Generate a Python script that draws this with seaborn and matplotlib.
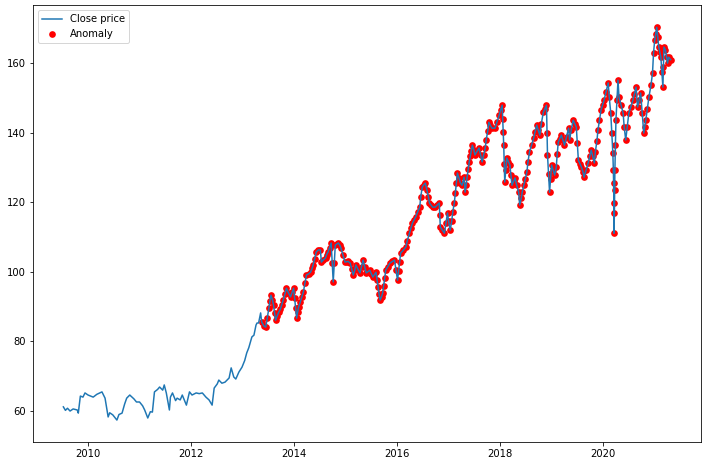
import pandas as pd
import matplotlib
matplotlib.use("Agg")
import matplotlib.pyplot as plt
import seaborn as sns

# close price (decimal year, price) - quiet years
early_years = [
    2009.52, 2009.56, 2009.60, 2009.65, 2009.71, 2009.79, 2009.81, 2009.85, 2009.90, 2009.94,
    2010.00, 2010.10, 2010.17, 2010.27, 2010.33, 2010.39, 2010.42, 2010.48, 2010.56, 2010.60,
    2010.66, 2010.71, 2010.75, 2010.81, 2010.89, 2010.94, 2011.00, 2011.06, 2011.10, 2011.16,
    2011.21, 2011.25, 2011.29, 2011.35, 2011.39, 2011.45, 2011.48, 2011.52, 2011.58, 2011.60,
    2011.64, 2011.70, 2011.73, 2011.79, 2011.83, 2011.91, 2011.97, 2012.02, 2012.10, 2012.16,
    2012.22, 2012.29, 2012.35, 2012.41, 2012.45, 2012.51, 2012.54, 2012.60, 2012.66, 2012.74,
    2012.78, 2012.83, 2012.87, 2012.93, 2012.99, 2013.04, 2013.08, 2013.12, 2013.18, 2013.22,
    2013.26, 2013.28, 2013.31, 2013.35,
]
early_prices = [
    61.2, 60.2, 60.8, 60.0, 60.6, 60.3, 59.4, 64.3, 64.0, 65.2,
    64.6, 64.0, 64.8, 65.5, 63.7, 58.3, 59.5, 58.9, 57.4, 59.0,
    59.4, 62.0, 63.7, 64.6, 63.5, 62.6, 62.6, 61.5, 60.3, 58.0,
    59.8, 59.7, 65.5, 66.2, 66.9, 66.0, 67.5, 65.2, 60.3, 64.0,
    65.2, 63.0, 63.7, 63.2, 64.6, 61.7, 65.5, 64.6, 65.2, 65.0,
    65.2, 64.0, 63.2, 61.7, 66.6, 67.8, 68.9, 68.0, 68.3, 69.5,
    72.4, 69.8, 69.2, 71.2, 72.6, 74.5, 76.7, 78.2, 81.3, 81.8,
    84.7, 85.3, 85.3, 88.2,
]

# later years, where every point is flagged as an anomaly
anom_years = [
    2013.37, 2013.41, 2013.45, 2013.48, 2013.51, 2013.53, 2013.55, 2013.58, 2013.60, 2013.62,
    2013.64, 2013.67, 2013.70, 2013.73, 2013.76, 2013.79, 2013.82, 2013.85, 2013.89, 2013.93,
    2013.96, 2013.99, 2014.01, 2014.03, 2014.05, 2014.07, 2014.09, 2014.12, 2014.15, 2014.18,
    2014.21, 2014.24, 2014.28, 2014.32, 2014.35, 2014.37, 2014.40, 2014.43, 2014.47, 2014.51,
    2014.53, 2014.57, 2014.61, 2014.63, 2014.66, 2014.69, 2014.72, 2014.74, 2014.76, 2014.78,
    2014.80, 2014.83, 2014.86, 2014.89, 2014.91, 2014.95, 2014.99, 2015.02, 2015.05, 2015.09,
    2015.12, 2015.15, 2015.18, 2015.20, 2015.24, 2015.28, 2015.31, 2015.34, 2015.37, 2015.40,
    2015.44, 2015.47, 2015.50, 2015.53, 2015.56, 2015.59, 2015.61, 2015.63, 2015.65, 2015.67,
    2015.70, 2015.72, 2015.74, 2015.76, 2015.78, 2015.82, 2015.86, 2015.91, 2015.95, 2015.98,
    2016.01, 2016.03, 2016.05, 2016.07, 2016.12, 2016.17, 2016.20, 2016.24, 2016.27, 2016.30,
    2016.33, 2016.36, 2016.40, 2016.44, 2016.46, 2016.49, 2016.52, 2016.55, 2016.58, 2016.61,
    2016.63, 2016.66, 2016.69, 2016.74, 2016.78, 2016.82, 2016.83, 2016.84, 2016.88, 2016.92,
    2016.95, 2016.98, 2017.00, 2017.03, 2017.06, 2017.08, 2017.11, 2017.13, 2017.15, 2017.17,
    2017.20, 2017.23, 2017.26, 2017.30, 2017.32, 2017.34, 2017.36, 2017.38, 2017.40, 2017.42,
    2017.44, 2017.46, 2017.49, 2017.51, 2017.55, 2017.59, 2017.62, 2017.65, 2017.68, 2017.71,
    2017.73, 2017.76, 2017.78, 2017.81, 2017.84, 2017.90, 2017.94, 2017.98, 2018.01, 2018.04,
    2018.05, 2018.06, 2018.07, 2018.08, 2018.09, 2018.11, 2018.13, 2018.16, 2018.19, 2018.21,
    2018.23, 2018.26, 2018.29, 2018.32, 2018.36, 2018.38, 2018.41, 2018.43, 2018.46, 2018.49,
    2018.52, 2018.54, 2018.57, 2018.61, 2018.65, 2018.68, 2018.71, 2018.74, 2018.77, 2018.80,
    2018.84, 2018.87, 2018.90, 2018.91, 2018.92, 2018.94, 2018.96, 2018.98, 2019.00, 2019.03,
    2019.06, 2019.09, 2019.11, 2019.13, 2019.16, 2019.19, 2019.22, 2019.25, 2019.29, 2019.33,
    2019.35, 2019.38, 2019.42, 2019.45, 2019.48, 2019.50, 2019.52, 2019.55, 2019.58, 2019.61,
    2019.63, 2019.67, 2019.71, 2019.74, 2019.77, 2019.80, 2019.83, 2019.85, 2019.88, 2019.90,
    2019.93, 2019.96, 2019.99, 2020.02, 2020.06, 2020.10, 2020.12, 2020.15, 2020.17, 2020.19,
    2020.200, 2020.205, 2020.210, 2020.212, 2020.220, 2020.225, 2020.230, 2020.240, 2020.250, 2020.270,
    2020.29, 2020.31, 2020.35, 2020.39, 2020.41, 2020.44, 2020.47, 2020.50, 2020.54, 2020.58,
    2020.61, 2020.64, 2020.67, 2020.70, 2020.73, 2020.76, 2020.79, 2020.81, 2020.83, 2020.86,
    2020.89, 2020.93, 2020.96, 2020.98, 2021.00, 2021.02, 2021.04, 2021.06, 2021.08, 2021.10,
    2021.12, 2021.14, 2021.16, 2021.17, 2021.18, 2021.21, 2021.23, 2021.25, 2021.27, 2021.31,
]
anom_prices = [
    85.6, 84.5, 84.1, 86.8, 89.6, 91.6, 93.3, 92.0, 90.5, 88.2,
    86.1, 87.3, 88.4, 89.2, 90.5, 92.0, 93.5, 95.3, 94.0, 92.8,
    94.1, 95.3, 92.5, 89.5, 86.7, 88.5, 90.0, 91.3, 92.8, 94.2,
    96.7, 99.1, 99.4, 99.9, 101.0, 102.0, 103.8, 105.7, 106.3, 106.3,
    102.8, 103.5, 104.0, 104.9, 105.7, 107.0, 108.3, 102.5, 97.1, 102.5,
    107.7, 108.0, 108.3, 107.6, 106.8, 104.8, 102.8, 102.9, 103.0, 102.5,
    100.8, 99.1, 100.5, 102.0, 100.8, 99.7, 101.5, 103.4, 101.5, 99.7,
    100.1, 100.5, 99.5, 98.5, 99.2, 99.9, 97.8, 95.6, 93.7, 91.9,
    92.9, 93.9, 96.0, 98.2, 100.5, 101.5, 102.5, 103.0, 103.4, 100.5,
    97.6, 100.2, 102.8, 105.4, 106.2, 107.1, 109.0, 111.1, 112.6, 114.0,
    114.9, 115.7, 117.2, 118.6, 121.5, 124.4, 125.0, 125.5, 123.5, 121.5,
    119.8, 119.2, 118.6, 118.6, 119.2, 119.8, 116.4, 112.9, 112.0, 111.1,
    114.0, 116.9, 114.5, 112.0, 114.6, 117.2, 119.8, 122.7, 125.6, 128.4,
    127.0, 125.5, 124.9, 127.2, 122.9, 125.0, 127.4, 129.5, 131.6, 133.2,
    134.8, 136.4, 135.0, 133.6, 134.6, 135.6, 133.6, 131.6, 133.6, 135.6,
    138.0, 140.5, 143.0, 142.1, 141.3, 141.3, 143.1, 145.0, 146.5, 147.9,
    144.0, 140.2, 136.4, 131.0, 125.8, 129.2, 132.7, 131.7, 130.7, 127.8,
    124.9, 126.0, 127.0, 125.0, 122.9, 119.2, 121.1, 123.0, 124.9, 126.8,
    128.7, 131.5, 134.4, 136.4, 138.4, 140.3, 142.2, 140.7, 139.3, 142.6,
    145.9, 146.9, 147.9, 140.0, 133.6, 128.0, 122.9, 126.8, 130.7, 129.3,
    127.8, 130.0, 134.0, 137.3, 138.3, 139.3, 137.9, 136.4, 138.9, 141.3,
    137.9, 140.7, 143.6, 142.6, 141.6, 137.0, 132.1, 131.1, 130.1, 128.7,
    127.2, 129.3, 131.3, 133.2, 135.0, 133.2, 131.3, 134.5, 137.6, 140.7,
    143.6, 146.5, 148.0, 149.4, 151.8, 154.3, 150.2, 145.6, 140.0, 134.1,
    129.3, 125.5, 119.8, 111.1, 116.9, 123.5, 129.3, 136.5, 143.6, 149.4,
    155.1, 150.2, 147.9, 145.6, 141.7, 137.9, 141.7, 145.6, 147.5, 149.4,
    151.2, 153.1, 147.4, 149.4, 151.4, 145.7, 139.9, 141.7, 143.6, 146.9,
    150.2, 153.6, 157.1, 162.9, 166.5, 168.4, 170.3, 167.5, 164.6, 163.1,
    161.7, 157.4, 153.1, 158.8, 164.6, 163.7, 161.8, 160.0, 161.7, 161.0,
]


def to_date(y):
    year = int(y)
    return pd.Timestamp(f"{year}-01-01") + pd.Timedelta(days=(y - year) * 365.25)


def main():
    df = pd.DataFrame({"Year": early_years + anom_years,
                       "Close": early_prices + anom_prices})
    df["Date"] = df["Year"].apply(to_date)
    df_anom = pd.DataFrame({"Year": anom_years, "Close": anom_prices})
    df_anom["Date"] = df_anom["Year"].apply(to_date)

    fig = plt.figure(figsize=(710 / 72, 466 / 72), dpi=72)
    ax = fig.add_axes([33 / 710, 24 / 466, 668 / 710, 437 / 466])

    # red dots under the blue line
    sns.lineplot(data=df, x="Date", y="Close", color="#1f77b4", linewidth=1.5,
                 label="Close price", estimator=None, sort=False, ax=ax, zorder=2)
    sns.scatterplot(data=df_anom, x="Date", y="Close", color="red", s=45,
                    linewidth=0, label="Anomaly", ax=ax, zorder=1)

    ax.set_xlabel("")
    ax.set_ylabel("")
    ax.set_ylim(51.1, 176.7)
    ax.legend(loc="upper left")

    fig.savefig("out.png", dpi=72)


if __name__ == "__main__":
    main()
